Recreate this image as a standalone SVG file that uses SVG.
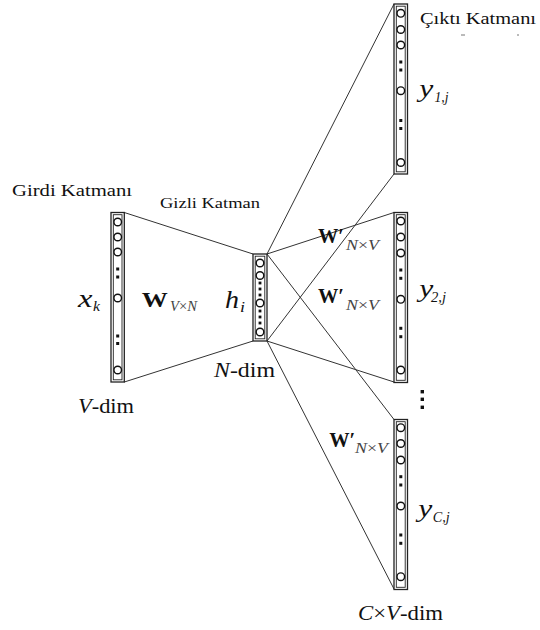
<svg xmlns="http://www.w3.org/2000/svg" width="540" height="630" viewBox="0 0 540 630">
<style>
text{font-family:"Liberation Serif",serif}
.it{font-style:italic}
.b{font-weight:bold}
.sub{fill:#444}
.conn line{stroke:#333;stroke-width:1}
.box{fill:#fff;stroke:#222;stroke-width:1.3}
.inner{fill:none;stroke:#222;stroke-width:0.9}
.neu{fill:#fff;stroke:#111;stroke-width:1.4}
.dot{fill:#111}
.mk{stroke:#777;stroke-width:1}
</style>
<rect width="540" height="630" fill="#fff"/>
<g id="connectors" class="conn">
<line x1="124.3" y1="212.5" x2="253" y2="254"/>
<line x1="124.3" y1="382" x2="253" y2="341"/>
<line x1="267" y1="254" x2="394" y2="4"/>
<line x1="267" y1="341" x2="394" y2="174"/>
<line x1="267" y1="254" x2="394" y2="212.5"/>
<line x1="267" y1="341" x2="394" y2="382"/>
<line x1="267" y1="254" x2="394" y2="419.5"/>
<line x1="267" y1="341" x2="394" y2="589"/>
</g>
<g font-family="Liberation Serif, serif" fill="#111">
<g id="input-layer">
<rect class="box" x="111" y="212.5" width="13.3" height="169.5"/>
<rect class="inner" x="113.3" y="214.7" width="8.7" height="165.1"/>
<circle class="neu" cx="117.7" cy="222" r="3.8"/>
<circle class="neu" cx="117.7" cy="237" r="3.8"/>
<circle class="neu" cx="117.7" cy="252" r="3.8"/>
<rect class="dot" x="116.2" y="267.5" width="3" height="3"/>
<rect class="dot" x="116.2" y="275.5" width="3" height="3"/>
<circle class="neu" cx="117.7" cy="298" r="3.8"/>
<rect class="dot" x="116.2" y="334.5" width="3" height="3"/>
<rect class="dot" x="116.2" y="342" width="3" height="3"/>
<circle class="neu" cx="117.7" cy="370" r="3.8"/>
<text x="12" y="196" font-size="16" textLength="120" lengthAdjust="spacingAndGlyphs">Girdi Katmanı</text>
<text class="it" x="78" y="306.5" font-size="25" textLength="14.5" lengthAdjust="spacingAndGlyphs">x</text>
<text class="it" x="93" y="310.5" font-size="15" textLength="7" lengthAdjust="spacingAndGlyphs">k</text>
<text x="78" y="413" font-size="20" textLength="56" lengthAdjust="spacingAndGlyphs"><tspan class="it">V</tspan>-dim</text>
</g>
<g id="weights-in">
<text class="b" x="141.7" y="306.7" font-size="20" textLength="26" lengthAdjust="spacingAndGlyphs">W</text>
<text class="sub" x="170" y="311" font-size="14" textLength="27" lengthAdjust="spacingAndGlyphs"><tspan class="it">V</tspan>×<tspan class="it">N</tspan></text>
</g>
<g id="hidden-layer">
<rect class="box" x="253" y="254" width="14" height="87"/>
<rect class="inner" x="255.2" y="256.2" width="9.6" height="82.6"/>
<circle class="neu" cx="260" cy="263" r="3.8"/>
<circle class="neu" cx="260" cy="275.5" r="3.8"/>
<rect class="dot" x="258.6" y="281.6" width="2.8" height="2.8"/>
<rect class="dot" x="258.6" y="287.6" width="2.8" height="2.8"/>
<rect class="dot" x="258.6" y="293.6" width="2.8" height="2.8"/>
<circle class="neu" cx="260" cy="303" r="3.8"/>
<rect class="dot" x="258.6" y="309.6" width="2.8" height="2.8"/>
<rect class="dot" x="258.6" y="315.6" width="2.8" height="2.8"/>
<rect class="dot" x="258.6" y="321.6" width="2.8" height="2.8"/>
<circle class="neu" cx="260" cy="332" r="3.8"/>
<text x="160" y="208" font-size="15" textLength="100" lengthAdjust="spacingAndGlyphs">Gizli Katman</text>
<text class="it" x="225" y="308" font-size="26" textLength="14" lengthAdjust="spacingAndGlyphs">h</text>
<text class="it" x="240" y="312" font-size="15" textLength="5" lengthAdjust="spacingAndGlyphs">i</text>
<text x="214" y="377" font-size="20" textLength="61" lengthAdjust="spacingAndGlyphs"><tspan class="it">N</tspan>-dim</text>
</g>
<g id="output-layer-1">
<rect class="box" x="394" y="4" width="13.5" height="170"/>
<rect class="inner" x="396.3" y="6.2" width="8.9" height="165.6"/>
<circle class="neu" cx="400.8" cy="13.3" r="3.8"/>
<circle class="neu" cx="400.8" cy="29.5" r="3.8"/>
<circle class="neu" cx="400.8" cy="45" r="3.8"/>
<rect class="dot" x="399.3" y="60.5" width="3" height="3"/>
<rect class="dot" x="399.3" y="68.5" width="3" height="3"/>
<circle class="neu" cx="400.8" cy="90.7" r="3.8"/>
<rect class="dot" x="399.3" y="119" width="3" height="3"/>
<rect class="dot" x="399.3" y="127" width="3" height="3"/>
<circle class="neu" cx="400.8" cy="162.5" r="3.8"/>
<text x="420" y="24" font-size="16" textLength="116" lengthAdjust="spacingAndGlyphs">Çıktı Katmanı</text>
<line class="mk" x1="461" y1="35" x2="465" y2="35"/>
<line class="mk" x1="517" y1="35" x2="519" y2="35"/>
<text class="it" x="419.3" y="97" font-size="26" textLength="14" lengthAdjust="spacingAndGlyphs">y</text>
<text class="it" x="434.5" y="101.5" font-size="14" textLength="14" lengthAdjust="spacingAndGlyphs">1,j</text>
<text class="b" x="318" y="243" font-size="21" textLength="26" lengthAdjust="spacingAndGlyphs">W′</text>
<text class="sub" x="346" y="250" font-size="14" textLength="33" lengthAdjust="spacingAndGlyphs"><tspan class="it">N</tspan>×<tspan class="it">V</tspan></text>
</g>
<g id="output-layer-2">
<rect class="box" x="394" y="212.5" width="13.5" height="170"/>
<rect class="inner" x="396.3" y="214.7" width="8.9" height="165.6"/>
<circle class="neu" cx="400.8" cy="221" r="3.8"/>
<circle class="neu" cx="400.8" cy="237" r="3.8"/>
<circle class="neu" cx="400.8" cy="253" r="3.8"/>
<rect class="dot" x="399.3" y="268.5" width="3" height="3"/>
<rect class="dot" x="399.3" y="276.8" width="3" height="3"/>
<circle class="neu" cx="400.8" cy="299.3" r="3.8"/>
<rect class="dot" x="399.3" y="326.8" width="3" height="3"/>
<rect class="dot" x="399.3" y="335.2" width="3" height="3"/>
<circle class="neu" cx="400.8" cy="370" r="3.8"/>
<text class="it" x="419.3" y="297" font-size="26" textLength="14" lengthAdjust="spacingAndGlyphs">y</text>
<text class="it" x="431" y="301.5" font-size="14" textLength="15" lengthAdjust="spacingAndGlyphs">2,j</text>
<text class="b" x="318" y="303" font-size="21" textLength="26" lengthAdjust="spacingAndGlyphs">W′</text>
<text class="sub" x="346" y="310" font-size="14" textLength="33" lengthAdjust="spacingAndGlyphs"><tspan class="it">N</tspan>×<tspan class="it">V</tspan></text>
</g>
<g id="ellipsis">
<rect class="dot" x="420.6" y="390" width="3.4" height="3.4"/>
<rect class="dot" x="420.6" y="397.6" width="3.4" height="3.4"/>
<rect class="dot" x="420.6" y="405.6" width="3.4" height="3.4"/>
</g>
<g id="output-layer-C">
<rect class="box" x="394" y="419.5" width="13.5" height="170"/>
<rect class="inner" x="396.3" y="421.7" width="8.9" height="165.6"/>
<circle class="neu" cx="400.8" cy="427.7" r="3.8"/>
<circle class="neu" cx="400.8" cy="443.5" r="3.8"/>
<circle class="neu" cx="400.8" cy="460" r="3.8"/>
<rect class="dot" x="399.3" y="475.2" width="3" height="3"/>
<rect class="dot" x="399.3" y="483.5" width="3" height="3"/>
<circle class="neu" cx="400.8" cy="506" r="3.8"/>
<rect class="dot" x="399.3" y="533.5" width="3" height="3"/>
<rect class="dot" x="399.3" y="541.8" width="3" height="3"/>
<circle class="neu" cx="400.8" cy="576.7" r="3.8"/>
<text class="it" x="418.3" y="517" font-size="26" textLength="14" lengthAdjust="spacingAndGlyphs">y</text>
<text class="it" x="432.7" y="522" font-size="14" textLength="17" lengthAdjust="spacingAndGlyphs">C,j</text>
<text class="b" x="329.3" y="446.7" font-size="21" textLength="26" lengthAdjust="spacingAndGlyphs">W′</text>
<text class="sub" x="355" y="453" font-size="14" textLength="33" lengthAdjust="spacingAndGlyphs"><tspan class="it">N</tspan>×<tspan class="it">V</tspan></text>
<text x="358" y="620" font-size="20" textLength="85" lengthAdjust="spacingAndGlyphs"><tspan class="it">C</tspan>×<tspan class="it">V</tspan>-dim</text>
</g>
</g>
</svg>
